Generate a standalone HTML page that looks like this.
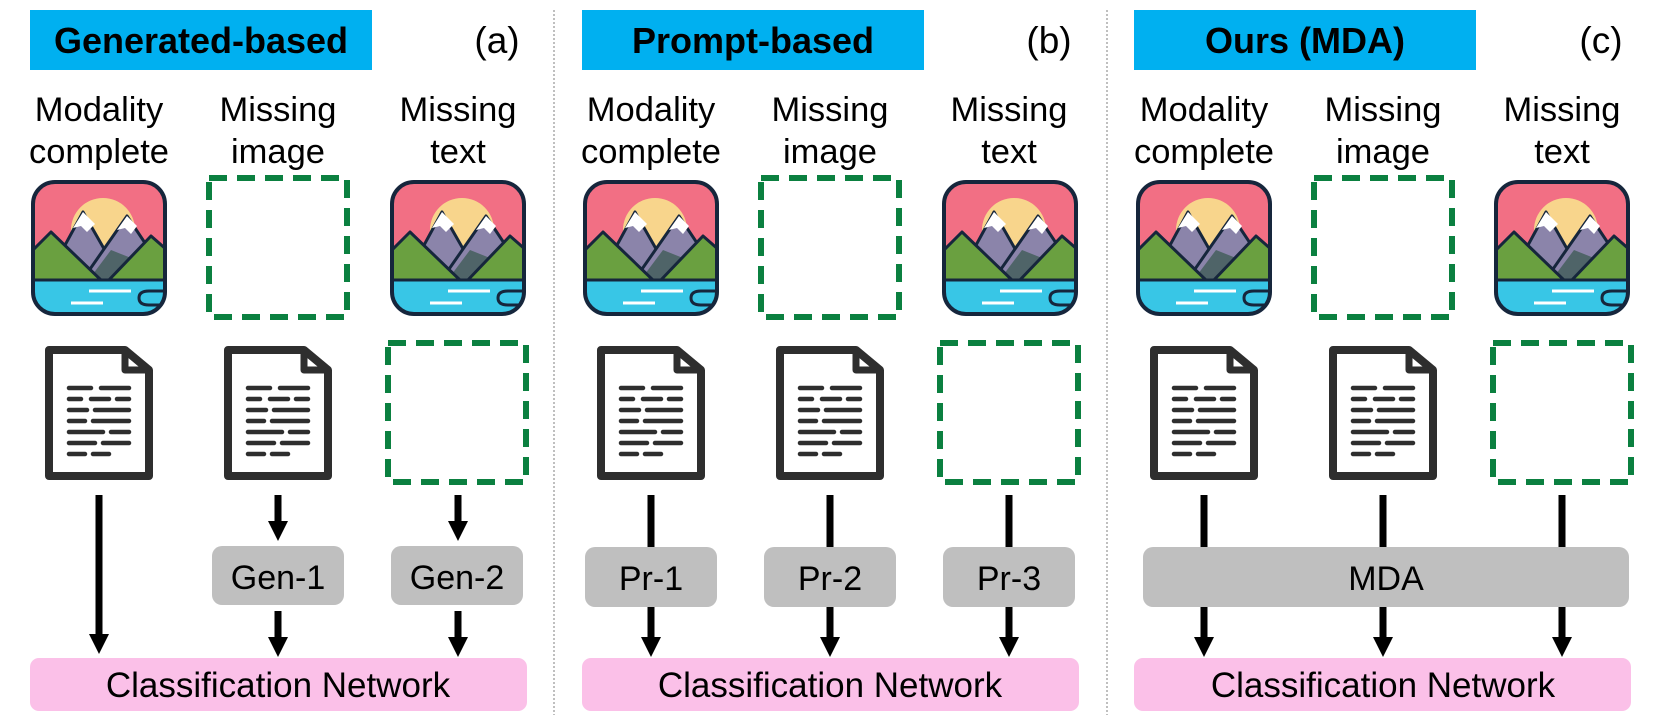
<!DOCTYPE html>
<html><head><meta charset="utf-8"><style>
html,body{margin:0;padding:0;background:#fff}
svg{display:block}
text{font-family:"Liberation Sans",Arial,sans-serif}
</style></head><body>
<svg width="1661" height="725" viewBox="0 0 1661 725" xmlns="http://www.w3.org/2000/svg">
<defs>
<clipPath id="ic"><rect x="2" y="2" width="132" height="132" rx="22"/></clipPath>
<g id="img">
  <g clip-path="url(#ic)">
    <rect x="0" y="0" width="136" height="136" fill="#f26f84"/>
    <circle cx="72" cy="50" r="32" fill="#f8d58c"/>
    <polygon points="14,102 52,32 92,102" fill="#8b84aa" stroke="#16263c" stroke-width="3" stroke-linejoin="round"/>
    <polygon points="52,32 42,48 50,46 56,52 64,44" fill="#fff"/>
    <polygon points="50,102 96,36 140,102" fill="#8b84aa" stroke="#16263c" stroke-width="3" stroke-linejoin="round"/>
    <polygon points="96,36 86,50 94,48 100,54 106,46" fill="#fff"/>
    <polygon points="56,102 80,70 100,78 116,102" fill="#4f6468"/>
    <polygon points="0,72 20,52 72,102 0,102" fill="#6aa040" stroke="#16263c" stroke-width="3" stroke-linejoin="round"/>
    <polygon points="76,102 120,56 136,70 136,102" fill="#6aa040" stroke="#16263c" stroke-width="3" stroke-linejoin="round"/>
    <rect x="0" y="100" width="136" height="40" fill="#38c6e6"/>
    <line x1="0" y1="100" x2="136" y2="100" stroke="#16263c" stroke-width="3"/>
    <line x1="58" y1="111" x2="100" y2="111" stroke="#fff" stroke-width="3"/>
    <line x1="40" y1="123" x2="72" y2="123" stroke="#fff" stroke-width="3"/>
    <path d="M136,111 H118 Q108,111 108,118 Q108,125 118,125 H136" fill="none" stroke="#16263c" stroke-width="3"/>
  </g>
  <rect x="2" y="2" width="132" height="132" rx="22" fill="none" stroke="#16263c" stroke-width="4"/>
</g>
<g id="doc" fill="none" stroke="#2e2e2e" stroke-linecap="round" stroke-linejoin="round">
  <path d="M4,4 H80 L104,24 V130 H4 Z" stroke-width="8"/>
  <path d="M80,4 V24 H104" stroke-width="7"/>
  <g stroke-width="4.5">
    <path d="M24,42 H46 M56,42 H84"/>
    <path d="M24,53 H36 M46,53 H64 M72,53 H84"/>
    <path d="M24,64 H42 M50,64 H84"/>
    <path d="M24,75 H40 M48,75 H84"/>
    <path d="M24,86 H58 M66,86 H84"/>
    <path d="M24,97 H50 M58,97 H84"/>
    <path d="M24,108 H40 M48,108 H64"/>
  </g>
</g>
<g id="dash"><rect x="3" y="3" width="138" height="139" fill="none" stroke="#0b8040" stroke-width="6" stroke-dasharray="18,10"/></g>
<g id="ahead"><polygon points="-10,0 10,0 0,20" fill="#000"/></g>
</defs>

<line x1="554" y1="10" x2="554" y2="715" stroke="#aaa" stroke-width="1.5" stroke-dasharray="2,2"/>
<line x1="1107" y1="10" x2="1107" y2="715" stroke="#aaa" stroke-width="1.5" stroke-dasharray="2,2"/>

<rect x="30" y="10" width="342" height="60" fill="#00b0f0"/>
<text x="201" y="53" font-size="36" font-weight="bold" text-anchor="middle">Generated-based</text>
<text x="497" y="53" font-size="37" text-anchor="middle">(a)</text>
<rect x="582" y="10" width="342" height="60" fill="#00b0f0"/>
<text x="753" y="53" font-size="36" font-weight="bold" text-anchor="middle">Prompt-based</text>
<text x="1049" y="53" font-size="37" text-anchor="middle">(b)</text>
<rect x="1134" y="10" width="342" height="60" fill="#00b0f0"/>
<text x="1305" y="53" font-size="36" font-weight="bold" text-anchor="middle">Ours (MDA)</text>
<text x="1601" y="53" font-size="37" text-anchor="middle">(c)</text>

<g font-size="34.5" text-anchor="middle">
<text x="99" y="121">Modality</text><text x="99" y="163">complete</text>
<text x="278" y="121">Missing</text><text x="278" y="163">image</text>
<text x="458" y="121">Missing</text><text x="458" y="163">text</text>
<text x="651" y="121">Modality</text><text x="651" y="163">complete</text>
<text x="830" y="121">Missing</text><text x="830" y="163">image</text>
<text x="1009" y="121">Missing</text><text x="1009" y="163">text</text>
<text x="1204" y="121">Modality</text><text x="1204" y="163">complete</text>
<text x="1383" y="121">Missing</text><text x="1383" y="163">image</text>
<text x="1562" y="121">Missing</text><text x="1562" y="163">text</text>
</g>

<use href="#img" x="31" y="180"/><use href="#dash" x="206" y="175"/><use href="#img" x="390" y="180"/>
<use href="#doc" x="45" y="346"/><use href="#doc" x="224" y="346"/><use href="#dash" x="385" y="340"/>

<use href="#img" x="583" y="180"/><use href="#dash" x="758" y="175"/><use href="#img" x="942" y="180"/>
<use href="#doc" x="597" y="346"/><use href="#doc" x="776" y="346"/><use href="#dash" x="937" y="340"/>

<use href="#img" x="1136" y="180"/><use href="#dash" x="1311" y="175"/><use href="#img" x="1494" y="180"/>
<use href="#doc" x="1150" y="346"/><use href="#doc" x="1329" y="346"/><use href="#dash" x="1490" y="340"/>

<g stroke="#000" stroke-width="7">
<line x1="99" y1="495" x2="99" y2="640"/>
<line x1="278" y1="495" x2="278" y2="525"/><line x1="278" y1="611" x2="278" y2="642"/>
<line x1="458" y1="495" x2="458" y2="525"/><line x1="458" y1="611" x2="458" y2="642"/>
</g>
<use href="#ahead" x="99" y="634"/>
<use href="#ahead" x="278" y="521"/><use href="#ahead" x="278" y="637"/>
<use href="#ahead" x="458" y="521"/><use href="#ahead" x="458" y="637"/>
<rect x="212" y="546" width="132" height="59" rx="10" fill="#bfbfbf"/>
<text x="278" y="589" font-size="34" text-anchor="middle">Gen-1</text>
<rect x="391" y="546" width="132" height="59" rx="10" fill="#bfbfbf"/>
<text x="457" y="589" font-size="34" text-anchor="middle">Gen-2</text>
<rect x="30" y="658" width="497" height="53" rx="9" fill="#fbc0e8"/>
<text x="278" y="697" font-size="35" text-anchor="middle">Classification Network</text>

<g stroke="#000" stroke-width="7">
<line x1="651" y1="495" x2="651" y2="550"/><line x1="651" y1="605" x2="651" y2="642"/>
<line x1="830" y1="495" x2="830" y2="550"/><line x1="830" y1="605" x2="830" y2="642"/>
<line x1="1009" y1="495" x2="1009" y2="550"/><line x1="1009" y1="605" x2="1009" y2="642"/>
</g>
<use href="#ahead" x="651" y="637"/><use href="#ahead" x="830" y="637"/><use href="#ahead" x="1009" y="637"/>
<rect x="585" y="547" width="132" height="60" rx="10" fill="#bfbfbf"/>
<text x="651" y="590" font-size="34" text-anchor="middle">Pr-1</text>
<rect x="764" y="547" width="132" height="60" rx="10" fill="#bfbfbf"/>
<text x="830" y="590" font-size="34" text-anchor="middle">Pr-2</text>
<rect x="943" y="547" width="132" height="60" rx="10" fill="#bfbfbf"/>
<text x="1009" y="590" font-size="34" text-anchor="middle">Pr-3</text>
<rect x="582" y="658" width="497" height="53" rx="9" fill="#fbc0e8"/>
<text x="830" y="697" font-size="35" text-anchor="middle">Classification Network</text>

<g stroke="#000" stroke-width="7">
<line x1="1204" y1="495" x2="1204" y2="550"/><line x1="1204" y1="605" x2="1204" y2="642"/>
<line x1="1383" y1="495" x2="1383" y2="550"/><line x1="1383" y1="605" x2="1383" y2="642"/>
<line x1="1562" y1="495" x2="1562" y2="550"/><line x1="1562" y1="605" x2="1562" y2="642"/>
</g>
<use href="#ahead" x="1204" y="637"/><use href="#ahead" x="1383" y="637"/><use href="#ahead" x="1562" y="637"/>
<rect x="1143" y="547" width="486" height="60" rx="10" fill="#bfbfbf"/>
<text x="1386" y="590" font-size="34" text-anchor="middle">MDA</text>
<rect x="1134" y="658" width="497" height="53" rx="9" fill="#fbc0e8"/>
<text x="1383" y="697" font-size="35" text-anchor="middle">Classification Network</text>
</svg>
</body></html>
